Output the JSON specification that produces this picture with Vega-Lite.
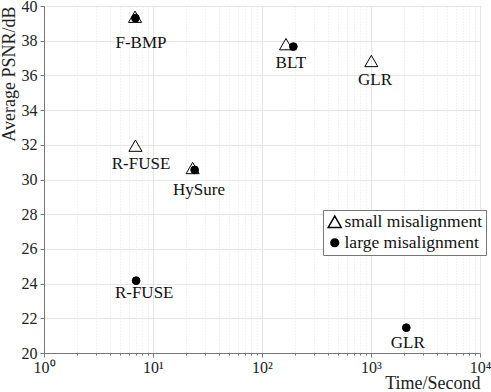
{
  "$schema": "https://vega.github.io/schema/vega-lite/v6.json",
  "width": 436,
  "height": 347,
  "autosize": {"type": "none"},
  "padding": {"left": 44, "top": 6, "right": 11, "bottom": 39},
  "background": "white",
  "config": {
    "view": {"stroke": "#777", "strokeWidth": 1},
    "font": "Liberation Serif",
    "axis": {"labelFont": "Liberation Serif", "titleFont": "Liberation Serif", "labelColor": "#222", "titleColor": "#222", "titleFontWeight": "normal", "domainColor": "#777", "tickColor": "#777"}
  },
  "datasets": {
    "pts": [
      {"method": "F-BMP", "type": "small misalignment", "time": 6.84, "psnr": 39.38},
      {"method": "F-BMP", "type": "large misalignment", "time": 6.9, "psnr": 39.3},
      {"method": "R-FUSE", "type": "small misalignment", "time": 6.9, "psnr": 31.95},
      {"method": "R-FUSE", "type": "large misalignment", "time": 7.0, "psnr": 24.17},
      {"method": "HySure", "type": "small misalignment", "time": 23.1, "psnr": 30.66},
      {"method": "HySure", "type": "large misalignment", "time": 24.1, "psnr": 30.56},
      {"method": "BLT", "type": "small misalignment", "time": 166, "psnr": 37.8},
      {"method": "BLT", "type": "large misalignment", "time": 194, "psnr": 37.66},
      {"method": "GLR", "type": "small misalignment", "time": 1007, "psnr": 36.83},
      {"method": "GLR", "type": "large misalignment", "time": 2109, "psnr": 21.46}
    ],
    "labels": [
      {"text": "F-BMP", "time": 7.76, "psnr": 37.88},
      {"text": "R-FUSE", "time": 7.76, "psnr": 30.88},
      {"text": "HySure", "time": 26.4, "psnr": 29.4},
      {"text": "BLT", "time": 184, "psnr": 36.7},
      {"text": "GLR", "time": 1088, "psnr": 35.73},
      {"text": "R-FUSE", "time": 8.3, "psnr": 23.44},
      {"text": "GLR", "time": 2177, "psnr": 20.59}
    ]
  },
  "encoding": {
    "x": {
      "field": "time", "type": "quantitative",
      "scale": {"type": "log", "domain": [1, 10000]},
      "axis": {
        "title": "Time/Second",
        "titleFontSize": 18, "titleAnchor": "end", "titleAlign": "right", "titlePadding": -1,
        "labelFontSize": 16, "labelPadding": 2,
        "values": [1,2,3,4,5,6,7,8,9,10,20,30,40,50,60,70,80,90,100,200,300,400,500,600,700,800,900,1000,2000,3000,4000,5000,6000,7000,8000,9000,10000],
        "labelExpr": "datum.value == 1 ? '10⁰' : datum.value == 10 ? '10¹' : datum.value == 100 ? '10²' : datum.value == 1000 ? '10³' : datum.value == 10000 ? '10⁴' : ''",
        "labelFlush": false, "labelOverlap": false,
        "grid": true,
        "gridColor": "#e6e6e6",
        "gridDash": {"condition": {"test": "indexof([1,10,100,1000,10000], datum.value) >= 0", "value": []}, "value": [1, 2]},
        "tickSize": {"condition": {"test": "indexof([1,10,100,1000,10000], datum.value) >= 0", "value": 4}, "value": 2}
      }
    },
    "y": {
      "field": "psnr", "type": "quantitative",
      "scale": {"domain": [20, 40]},
      "axis": {
        "title": "Average PSNR/dB",
        "titleFontSize": 18, "titleAnchor": "end", "titlePadding": 3,
        "labelFontSize": 16, "labelPadding": 3, "tickSize": 4, "labelOverlap": false, "labelFlush": false,
        "values": [20,22,24,26,28,30,32,34,36,38,40],
        "grid": true, "gridColor": "#e6e6e6"
      }
    }
  },
  "layer": [
    {
      "data": {"name": "pts"},
      "mark": {"type": "point", "filled": false, "strokeWidth": 1, "opacity": 1},
      "encoding": {
        "shape": {
          "field": "type", "type": "nominal",
          "scale": {"domain": ["small misalignment", "large misalignment"], "range": ["triangle-up", "circle"]},
          "legend": {
            "title": null, "orient": "none", "legendX": 279, "legendY": 204,
            "labelFont": "Liberation Serif", "labelFontSize": 17.5, "labelColor": "#111",
            "strokeColor": "#777", "fillColor": "white", "padding": 3, "rowPadding": 2,
            "symbolStrokeColor": "black", "labelOffset": 1, "symbolSize": 110
          }
        },
        "fill": {
          "field": "type", "type": "nominal",
          "scale": {"domain": ["small misalignment", "large misalignment"], "range": ["transparent", "black"]}
        },
        "stroke": {"value": "black"},
        "size": {
          "field": "type", "type": "nominal",
          "scale": {"domain": ["small misalignment", "large misalignment"], "range": [170, 60]}
        }
      }
    },
    {
      "data": {"name": "labels"},
      "mark": {"type": "text", "font": "Liberation Serif", "fontSize": 17, "color": "#111", "align": "center", "baseline": "middle"},
      "encoding": {
        "text": {"field": "text"}
      }
    }
  ]
}
